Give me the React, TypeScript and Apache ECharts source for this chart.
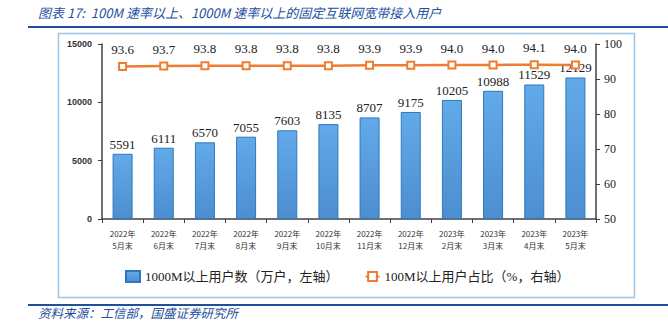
import React, { useEffect, useRef } from "react";
import * as echarts from "echarts";

const categories = [
  "2022年\n5月末", "2022年\n6月末", "2022年\n7月末", "2022年\n8月末",
  "2022年\n9月末", "2022年\n10月末", "2022年\n11月末", "2022年\n12月末",
  "2023年\n2月末", "2023年\n3月末", "2023年\n4月末", "2023年\n5月末",
];
const users1000M = [5591, 6111, 6570, 7055, 7603, 8135, 8707, 9175, 10205, 10988, 11529, 12129];
const share100M = [93.6, 93.7, 93.8, 93.8, 93.8, 93.8, 93.9, 93.9, 94.0, 94.0, 94.1, 94.0];
const barName = "1000M以上用户数（万户，左轴）";
const lineName = "100M以上用户占比（%，右轴）";
const titleText = "图表 17:  100M 速率以上、1000M 速率以上的固定互联网宽带接入用户";
const sourceText = "资料来源：工信部，国盛证券研究所";

export default function App() {
  const ref = useRef<HTMLDivElement>(null);
  useEffect(() => {
    if (!ref.current) return;
    const chart = echarts.init(ref.current, null, { renderer: "svg" });
    const serif = "'Liberation Serif', 'Times New Roman', serif";
    const cjk = "'Liberation Serif', 'Noto Sans CJK SC', serif";
    chart.setOption({
      animation: false,
      backgroundColor: "#fff",
      graphic: [
        { type: "text", left: 38, top: 6, style: { text: titleText, fontSize: 13, fontStyle: "italic", fontWeight: "normal", fill: "#2450a0", fontFamily: "'Noto Sans CJK SC', sans-serif" } },
        { type: "line", shape: { x1: 28, y1: 27, x2: 668, y2: 27 }, style: { stroke: "#1f4e9c", lineWidth: 2 } },
        { type: "rect", shape: { x: 58.5, y: 33.5, width: 576, height: 264 }, style: { fill: "none", stroke: "#9dc3e6", lineWidth: 1.5 } },
        { type: "line", shape: { x1: 28, y1: 305, x2: 668, y2: 305 }, style: { stroke: "#1f4e9c", lineWidth: 2 } },
        { type: "text", left: 38, top: 306, style: { text: sourceText, fontSize: 12.5, fontStyle: "italic", fill: "#2450a0", fontFamily: "'Noto Sans CJK SC', sans-serif" } },
      ],
      legend: {
        left: 120,
        top: 265,
        itemWidth: 14,
        itemHeight: 11,
        itemGap: 26,
        textStyle: { fontSize: 13, color: "#222", fontFamily: cjk },
        data: [{ name: barName, icon: "rect" }, { name: lineName }],
      },
      grid: { left: 102, right: 72, top: 44, bottom: 111 },
      xAxis: {
        type: "category",
        data: categories,
        boundaryGap: true,
        axisLine: { lineStyle: { color: "#404040", width: 1.5 } },
        axisTick: { show: true, length: 4, lineStyle: { color: "#404040" } },
        axisLabel: { fontSize: 8, lineHeight: 12, color: "#333", margin: 8, interval: 0, fontFamily: "'Noto Sans CJK SC', sans-serif" },
      },
      yAxis: [
        {
          type: "value", min: 0, max: 15000, interval: 5000,
          splitLine: { show: false },
          axisLine: { show: true, lineStyle: { color: "#404040", width: 1.5 } },
          axisTick: { show: true, length: 4, lineStyle: { color: "#404040" } },
          axisLabel: { fontSize: 9, fontWeight: "bold", color: "#333", margin: 10, fontFamily: "'Liberation Sans', Arial, sans-serif", formatter: (v: number) => String(v) },
        },
        {
          type: "value", min: 50, max: 100, interval: 10,
          splitLine: { show: false },
          axisLine: { show: true, lineStyle: { color: "#404040", width: 1.5 } },
          axisTick: { show: true, length: 4, lineStyle: { color: "#404040" } },
          axisLabel: { fontSize: 12, color: "#222", margin: 8, fontFamily: serif },
        },
      ],
      series: [
        {
          name: barName,
          type: "bar",
          data: users1000M,
          barWidth: 20,
          itemStyle: {
            color: new echarts.graphic.LinearGradient(0, 0, 0, 1, [
              { offset: 0, color: "#62aae8" },
              { offset: 1, color: "#4d8ed0" },
            ]),
            borderColor: "#2e78c0",
            borderWidth: 1,
          },
          label: { show: true, position: "top", distance: 3, fontSize: 13, color: "#222", fontFamily: serif },
        },
        {
          name: lineName,
          type: "line",
          yAxisIndex: 1,
          data: share100M,
          symbol: "rect",
          symbolSize: 7,
          lineStyle: { color: "#ed7d31", width: 2.5 },
          itemStyle: { color: "#fff", borderColor: "#ed7d31", borderWidth: 2 },
          label: {
            show: true, position: "top", distance: 6, fontSize: 13, color: "#222", fontFamily: serif,
            formatter: (p: any) => Number(p.value).toFixed(1),
          },
          z: 3,
        },
      ],
    });
    return () => chart.dispose();
  }, []);
  return <div ref={ref} style={{ position: "fixed", left: 0, top: 0, width: 668, height: 330 }} />;
}
